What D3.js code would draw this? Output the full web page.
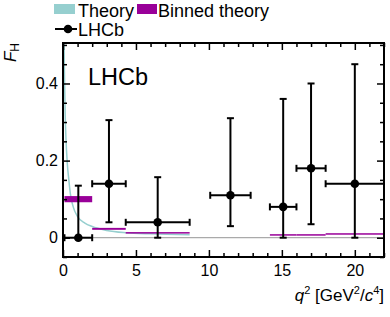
<!DOCTYPE html>
<html>
<head>
<meta charset="utf-8">
<script src="https://cdn.jsdelivr.net/npm/d3@7"></script>
<style>
  body { margin: 0; background: white; }
  svg { font-family: "Liberation Sans", Arial, sans-serif; }
</style>
</head>
<body>
<div id="vis"></div>
<script>
// q2 bins
const binLo = [0.1, 2.0, 4.3, 10.09, 14.18, 16.0, 18.0];
const binHi = [2.0, 4.3, 8.68, 12.86, 16.0, 18.0, 22.0];

// LHCb measurement
const lhcbQ2 = [1.05, 3.15, 6.49, 11.475, 15.09, 17.0, 20.0];
const lhcbFH = [0.00, 0.14, 0.04, 0.11, 0.08, 0.18, 0.14];
const lhcbErrUp = [0.135, 0.165, 0.117, 0.20, 0.28, 0.22, 0.31];
const lhcbErrDown = [0.0, 0.10, 0.04, 0.08, 0.08, 0.145, 0.14];

// binned theory band (no prediction in bin 4)
const binThLo = [0.092, 0.0205, 0.0108, null, 0.006, 0.006, 0.0085];
const binThHi = [0.108, 0.0255, 0.0145, null, 0.0085, 0.0085, 0.011];

// theory curve
const thQ2 = [0.05, 0.08, 0.11, 0.15, 0.2, 0.3, 0.4, 0.5, 0.7, 1.0, 1.5, 2.0, 3.0, 4.3, 6.0, 8.68];
const thFH = [0.60, 0.48, 0.40, 0.32, 0.26, 0.19, 0.15, 0.115, 0.08, 0.055, 0.038, 0.029, 0.019, 0.013, 0.010, 0.008];

const xMajor = [0, 5, 10, 15, 20];
const yMajor = [0, 0.2, 0.4];

const W = 390, H = 317;
const margin = { top: 43, right: 6, bottom: 60, left: 63 };
const width = W - margin.left - margin.right;
const height = H - margin.top - margin.bottom;

const svg = d3.select("#vis").append("svg")
  .attr("width", W)
  .attr("height", H);

const chart = svg.append("g")
  .attr("transform", `translate(${margin.left}, ${margin.top})`);

const x = d3.scaleLinear().domain([0, 22]).range([0, width]);
const y = d3.scaleLinear().domain([-0.05, 0.505]).range([height, 0]);

const cyan = "#96cfcf";
const magenta = "#990099";

chart.append("clipPath").attr("id", "clip")
  .append("rect").attr("width", width).attr("height", height);

// zero line
chart.append("line")
  .attr("x1", 0).attr("x2", width)
  .attr("y1", y(0)).attr("y2", y(0))
  .attr("stroke", "#aaaaaa")
  .attr("stroke-width", 1.2);

// theory curve
const line = d3.line()
  .x((d, i) => x(thQ2[i]))
  .y(d => y(d))
  .curve(d3.curveMonotoneX);

chart.append("path")
  .datum(thFH)
  .attr("clip-path", "url(#clip)")
  .attr("d", line)
  .attr("fill", "none")
  .attr("stroke", cyan)
  .attr("stroke-width", 1.5);

// binned theory
binLo.forEach((lo, i) => {
  if (binThLo[i] === null) return;
  const top = y(binThHi[i]);
  const h = Math.max(1.5, y(binThLo[i]) - top);
  chart.append("rect")
    .attr("x", x(lo))
    .attr("y", (y(binThLo[i]) + top) / 2 - h / 2)
    .attr("width", x(binHi[i]) - x(lo))
    .attr("height", h)
    .attr("fill", magenta);
});

// LHCb points with error bars
const cap = 3.5;
lhcbQ2.forEach((q, i) => {
  const g = chart.append("g")
    .attr("stroke", "black")
    .attr("stroke-width", 2);
  const cx = x(q), cy = y(lhcbFH[i]);
  const yt = y(lhcbFH[i] + lhcbErrUp[i]);
  const yb = y(lhcbFH[i] - lhcbErrDown[i]);
  const xl = x(binLo[i]), xr = x(binHi[i]);
  g.append("line").attr("x1", xl).attr("x2", xr).attr("y1", cy).attr("y2", cy);
  g.append("line").attr("x1", cx).attr("x2", cx).attr("y1", yt).attr("y2", yb);
  g.append("line").attr("x1", cx - cap).attr("x2", cx + cap).attr("y1", yt).attr("y2", yt);
  g.append("line").attr("x1", cx - cap).attr("x2", cx + cap).attr("y1", yb).attr("y2", yb);
  g.append("line").attr("x1", xl).attr("x2", xl).attr("y1", cy - cap).attr("y2", cy + cap);
  g.append("line").attr("x1", xr).attr("x2", xr).attr("y1", cy - cap).attr("y2", cy + cap);
  chart.append("circle")
    .attr("cx", cx).attr("cy", cy).attr("r", 4.3)
    .attr("fill", "black");
});

// axes, ticks pointing inward on all four sides
const xMinor = d3.range(0, 23, 1).filter(v => !xMajor.includes(v));
const yMinor = d3.range(-0.05, 0.51, 0.05).map(v => +v.toFixed(2)).filter(v => !yMajor.includes(v));

function styleAxis(g) {
  g.select(".domain").remove();
  g.selectAll("line").attr("stroke-width", 1.5);
  g.selectAll("text")
    .attr("font-size", "16px")
    .attr("fill", "black")
    .attr("font-family", "Liberation Sans, Arial, sans-serif");
}

chart.append("g")
  .attr("transform", `translate(0, ${height})`)
  .call(d3.axisBottom(x).tickValues(xMajor).tickSize(-7).tickPadding(8).tickFormat(d3.format("d")))
  .call(styleAxis);
chart.append("g")
  .attr("transform", `translate(0, ${height})`)
  .call(d3.axisBottom(x).tickValues(xMinor).tickSize(-4).tickFormat(""))
  .call(styleAxis);
chart.append("g")
  .call(d3.axisTop(x).tickValues(xMajor).tickSize(-7).tickFormat(""))
  .call(styleAxis);
chart.append("g")
  .call(d3.axisTop(x).tickValues(xMinor).tickSize(-4).tickFormat(""))
  .call(styleAxis);

chart.append("g")
  .call(d3.axisLeft(y).tickValues(yMajor).tickSize(-7).tickPadding(5)
    .tickFormat(d => d === 0 ? "0" : d3.format(".1f")(d)))
  .call(styleAxis);
chart.append("g")
  .call(d3.axisLeft(y).tickValues(yMinor).tickSize(-4).tickFormat(""))
  .call(styleAxis);
chart.append("g")
  .attr("transform", `translate(${width}, 0)`)
  .call(d3.axisRight(y).tickValues(yMajor).tickSize(-7).tickFormat(""))
  .call(styleAxis);
chart.append("g")
  .attr("transform", `translate(${width}, 0)`)
  .call(d3.axisRight(y).tickValues(yMinor).tickSize(-4).tickFormat(""))
  .call(styleAxis);

// frame
chart.append("rect")
  .attr("width", width).attr("height", height)
  .attr("fill", "none")
  .attr("stroke", "black")
  .attr("stroke-width", 2);

// LHCb label
chart.append("text")
  .attr("x", 25).attr("y", 42)
  .attr("font-size", "23.5px")
  .text("LHCb");

// axis titles
const yt = svg.append("text")
  .attr("transform", "translate(16, 43) rotate(-90)")
  .attr("text-anchor", "end")
  .attr("font-size", "17px");
yt.append("tspan").attr("font-style", "italic").text("F");
yt.append("tspan").attr("font-size", "12px").attr("dy", 3).text("H");

const xt = svg.append("text")
  .attr("x", margin.left + width).attr("y", 301)
  .attr("text-anchor", "end")
  .attr("font-size", "17px");
xt.append("tspan").attr("font-style", "italic").text("q");
xt.append("tspan").attr("font-size", "11px").attr("dy", -7).text("2");
xt.append("tspan").attr("dy", 7).text(" [GeV");
xt.append("tspan").attr("font-size", "11px").attr("dy", -7).text("2");
xt.append("tspan").attr("dy", 7).text("/");
xt.append("tspan").attr("font-style", "italic").text("c");
xt.append("tspan").attr("font-size", "11px").attr("dy", -7).text("4");
xt.append("tspan").attr("dy", 7).text("]");

// legend
const legend = svg.append("g").attr("font-size", "18px");
legend.append("rect").attr("x", 54).attr("y", 4).attr("width", 21).attr("height", 10).attr("fill", cyan);
legend.append("text").attr("x", 78).attr("y", 17).text("Theory");
legend.append("rect").attr("x", 137).attr("y", 4).attr("width", 20).attr("height", 10).attr("fill", magenta);
legend.append("text").attr("x", 158).attr("y", 17).text("Binned theory");
legend.append("line").attr("x1", 55).attr("x2", 77).attr("y1", 29).attr("y2", 29)
  .attr("stroke", "black").attr("stroke-width", 2);
legend.append("circle").attr("cx", 68).attr("cy", 29).attr("r", 4.3).attr("fill", "black");
legend.append("text").attr("x", 78).attr("y", 36).text("LHCb");
</script>
</body>
</html>
